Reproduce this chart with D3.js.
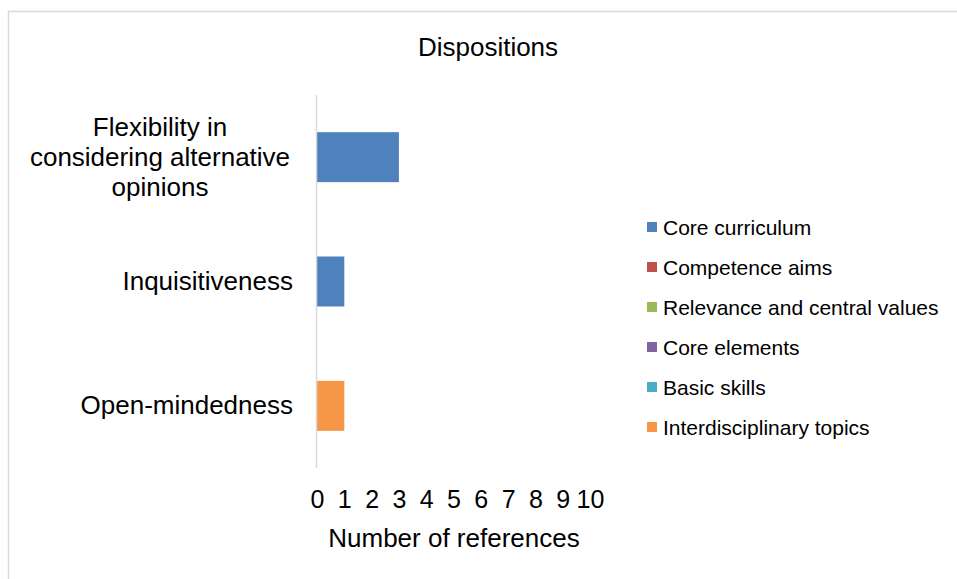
<!DOCTYPE html>
<html>
<head>
<meta charset="utf-8">
<script src="https://cdn.jsdelivr.net/npm/d3@7"></script>
<style>
  html, body { margin: 0; padding: 0; background: #fff; }
  svg { display: block; font-family: "Liberation Sans", Arial, sans-serif; }
</style>
</head>
<body>
<svg id="chart" width="957" height="579"></svg>
<script>
// Dispositions and how often each is referenced, split by curriculum part
const categories = [
  ["Flexibility in", "considering alternative", "opinions"],
  ["Inquisitiveness"],
  ["Open-mindedness"]
];
const seriesNames = [
  "Core curriculum",
  "Competence aims",
  "Relevance and central values",
  "Core elements",
  "Basic skills",
  "Interdisciplinary topics"
];
const seriesColors = ["#4F81BD", "#C0504D", "#9BBB59", "#8064A2", "#4BACC6", "#F79646"];
// one row per category, one value per series
const coreCurriculum       = [3, 1, 0];
const competenceAims       = [0, 0, 0];
const relevanceValues      = [0, 0, 0];
const coreElements         = [0, 0, 0];
const basicSkills          = [0, 0, 0];
const interdisciplinary    = [0, 0, 1];
const xTicks = [0, 1, 2, 3, 4, 5, 6, 7, 8, 9, 10];

const chartTitle = "Dispositions";
const xTitle = "Number of references";

const seriesValues = [coreCurriculum, competenceAims, relevanceValues, coreElements, basicSkills, interdisciplinary];
const catKeys = categories.map(c => c.join(" "));
const rows = catKeys.map((k, i) => {
  const r = { key: k };
  seriesNames.forEach((s, j) => { r[s] = seriesValues[j][i]; });
  return r;
});

const svg = d3.select("#chart");

// outer frame
svg.append("path")
  .attr("d", "M8.5,579 V11.5 H957")
  .attr("fill", "none")
  .attr("stroke", "#d9d9d9")
  .attr("stroke-width", 1.5);

const x = d3.scaleLinear().domain([0, 10]).range([317, 590]);
const y = d3.scaleBand().domain(catKeys).range([95, 468])
  .paddingInner(0.598).paddingOuter(0.299);

const stacked = d3.stack().keys(seriesNames)(rows);

svg.append("g").selectAll("g")
  .data(stacked)
  .join("g")
  .attr("fill", (d, i) => seriesColors[i])
  .selectAll("rect")
  .data(d => d.filter(p => p[1] - p[0] > 0))
  .join("rect")
  .attr("x", d => x(d[0]))
  .attr("y", d => y(d.data.key))
  .attr("width", d => x(d[1]) - x(d[0]))
  .attr("height", y.bandwidth());

// vertical category axis line
svg.append("line")
  .attr("x1", 316.5).attr("x2", 316.5)
  .attr("y1", y.range()[0]).attr("y2", y.range()[1])
  .attr("stroke", "#d9d9d9").attr("stroke-width", 1.5);

// category labels
const labelG = svg.append("g").attr("font-size", 26).attr("fill", "#000");
categories.forEach((lines, i) => {
  const cy = y(catKeys[i]) + y.bandwidth() / 2;
  const lh = 30;
  const multi = lines.length > 1;
  const t = labelG.append("text")
    .attr("text-anchor", multi ? "middle" : "end")
    .attr("x", multi ? 160 : 293);
  lines.forEach((ln, k) => {
    t.append("tspan")
      .attr("x", multi ? 160 : 293)
      .attr("y", cy + 8.5 + (k - (lines.length - 1) / 2) * lh)
      .text(ln);
  });
});

// value axis tick labels (no axis line)
const xAxis = d3.axisBottom(x).tickValues(xTicks).tickSize(0).tickPadding(0);
const xg = svg.append("g").attr("transform", "translate(0,490)").call(xAxis);
xg.select(".domain").remove();
xg.selectAll("text")
  .attr("font-size", 25)
  .attr("font-family", "'Liberation Sans', Arial, sans-serif")
  .attr("fill", "#000")
  .attr("dy", 0)
  .attr("y", 18);

svg.append("text")
  .attr("x", 454).attr("y", 547)
  .attr("text-anchor", "middle")
  .attr("font-size", 26)
  .text(xTitle);

svg.append("text")
  .attr("x", 488).attr("y", 55.5)
  .attr("text-anchor", "middle")
  .attr("font-size", 26)
  .text(chartTitle);

// legend
const legend = svg.append("g").attr("font-size", 21);
seriesNames.forEach((s, i) => {
  const ly = 227 + i * 40;
  legend.append("rect")
    .attr("x", 647).attr("y", ly - 5)
    .attr("width", 10).attr("height", 10)
    .attr("fill", seriesColors[i]);
  legend.append("text")
    .attr("x", 663).attr("y", ly + 7.5)
    .text(s);
});
</script>
</body>
</html>
